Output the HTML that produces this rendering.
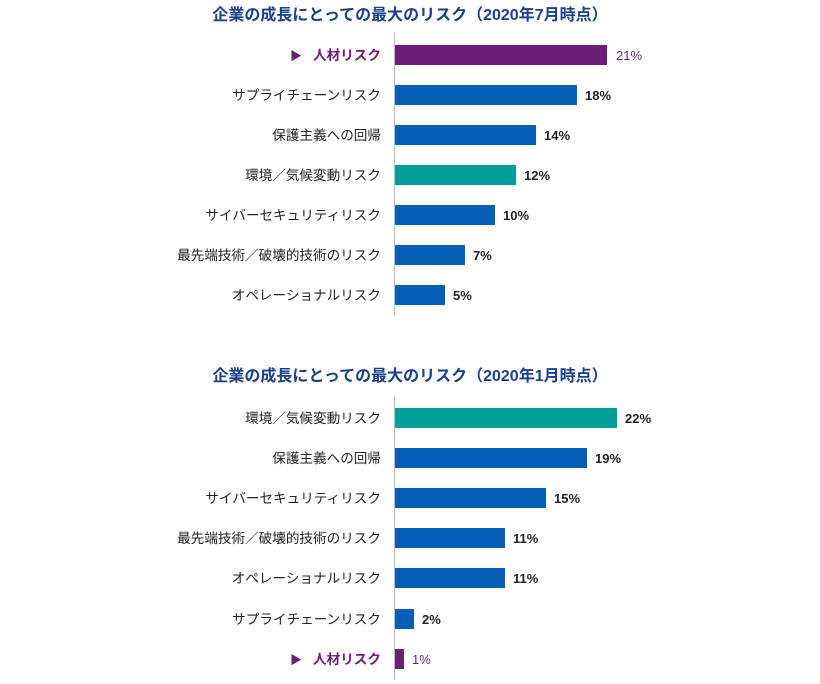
<!DOCTYPE html>
<html><head><meta charset="utf-8"><style>
html,body{margin:0;padding:0;background:#fff;}
body{width:820px;height:684px;position:relative;overflow:hidden;font-family:"Liberation Sans","Noto Sans CJK JP",sans-serif;}
.t{position:absolute;left:0;width:820px;text-align:center;font-size:16px;font-weight:bold;color:#1b3f8f;line-height:20px;white-space:nowrap;}
.ax{position:absolute;left:394px;width:1px;background:#bbb;}
.lb{position:absolute;right:439px;font-size:13.6px;color:#222;line-height:20px;height:20px;white-space:nowrap;text-align:right;margin-top:1px;}
.lb.p{color:#6b1f77;font-weight:bold;}
.lb.p .tri{font-size:12px;margin-right:11px;display:inline-block;vertical-align:top;}
.bar{position:absolute;left:395px;height:20px;}
.v{position:absolute;font-size:13px;line-height:20px;color:#222;font-weight:bold;margin-top:1px;}
.v.p{color:#6b1f77;font-weight:normal;}
.b{background:#065eb6;} .g{background:#00a19a;} .pu{background:#6b1f77;}
</style></head><body>
<div class="t" style="top:6px;">企業の成長にとっての最大のリスク（2020年7月時点）</div>
<div class="ax" style="top:33px;height:283px;"></div>

<div class="lb p" style="top:45px;"><span class="tri">▶</span>人材リスク</div>
<div class="bar pu" style="top:45px;width:212px;"></div>
<div class="v p" style="top:45px;left:616px;">21%</div>

<div class="lb" style="top:85px;">サプライチェーンリスク</div>
<div class="bar b" style="top:85px;width:182px;"></div>
<div class="v" style="top:85px;left:585px;">18%</div>

<div class="lb" style="top:125px;">保護主義への回帰</div>
<div class="bar b" style="top:125px;width:141px;"></div>
<div class="v" style="top:125px;left:544px;">14%</div>

<div class="lb" style="top:165px;">環境／気候変動リスク</div>
<div class="bar g" style="top:165px;width:121px;"></div>
<div class="v" style="top:165px;left:524px;">12%</div>

<div class="lb" style="top:205px;">サイバーセキュリティリスク</div>
<div class="bar b" style="top:205px;width:100px;"></div>
<div class="v" style="top:205px;left:503px;">10%</div>

<div class="lb" style="top:245px;">最先端技術／破壊的技術のリスク</div>
<div class="bar b" style="top:245px;width:70px;"></div>
<div class="v" style="top:245px;left:473px;">7%</div>

<div class="lb" style="top:285px;">オペレーショナルリスク</div>
<div class="bar b" style="top:285px;width:50px;"></div>
<div class="v" style="top:285px;left:453px;">5%</div>

<div class="t" style="top:367px;">企業の成長にとっての最大のリスク（2020年1月時点）</div>
<div class="ax" style="top:396px;height:284px;"></div>

<div class="lb" style="top:408px;">環境／気候変動リスク</div>
<div class="bar g" style="top:408px;width:222px;"></div>
<div class="v" style="top:408px;left:625px;">22%</div>

<div class="lb" style="top:448px;">保護主義への回帰</div>
<div class="bar b" style="top:448px;width:192px;"></div>
<div class="v" style="top:448px;left:595px;">19%</div>

<div class="lb" style="top:488px;">サイバーセキュリティリスク</div>
<div class="bar b" style="top:488px;width:151px;"></div>
<div class="v" style="top:488px;left:554px;">15%</div>

<div class="lb" style="top:528px;">最先端技術／破壊的技術のリスク</div>
<div class="bar b" style="top:528px;width:110px;"></div>
<div class="v" style="top:528px;left:513px;">11%</div>

<div class="lb" style="top:568px;">オペレーショナルリスク</div>
<div class="bar b" style="top:568px;width:110px;"></div>
<div class="v" style="top:568px;left:513px;">11%</div>

<div class="lb" style="top:609px;">サプライチェーンリスク</div>
<div class="bar b" style="top:609px;width:19px;"></div>
<div class="v" style="top:609px;left:422px;">2%</div>

<div class="lb p" style="top:649px;"><span class="tri">▶</span>人材リスク</div>
<div class="bar pu" style="top:649px;width:9px;"></div>
<div class="v p" style="top:649px;left:412px;">1%</div>
</body></html>
